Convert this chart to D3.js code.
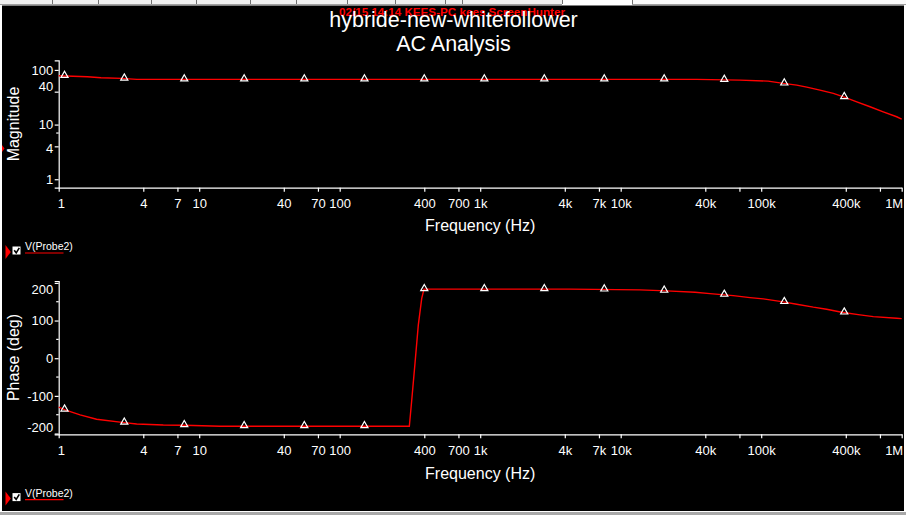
<!DOCTYPE html>
<html>
<head>
<meta charset="utf-8">
<script src="https://cdn.jsdelivr.net/npm/d3@7/dist/d3.min.js"></script>
<style>
  html, body { margin: 0; padding: 0; background: #ffffff; }
  svg { display: block; }
  text { font-family: "Liberation Sans", Arial, sans-serif; }
</style>
</head>
<body>
<svg id="chart" width="906" height="515"></svg>
<script>
// ---------------- DATA ----------------
const titleLines = ["hybride-new-whitefollower", "AC Analysis"];
const watermark = "02/15  14:14  KEES-PC  kees  ScreenHunter";
const seriesName = "V(Probe2)";

// Magnitude trace (frequency in Hz, magnitude)
const magFreq = [1, 1.6, 2.0, 2.8, 3.6, 34700, 70700, 112000, 143600, 179000, 211000,
                 262000, 326000, 395000, 479000, 595000, 739000, 921000, 1000000];
const magValues = [78.1, 74.8, 71.8, 70.0, 67.1, 67.1, 65.2, 62.5, 56.7, 52.8, 48.5,
                   42.8, 37.2, 31.5, 26.1, 21.2, 17.1, 13.9, 12.6];

// Phase trace (frequency in Hz, degrees)
const phaseFreq = [1, 1.11, 1.42, 1.86, 2.92, 3.59, 5.55, 7.83, 14.1, 313, 325, 343.6,
                   362.6, 383.5, 398, 4355, 13700, 21200, 33800, 43200, 63300, 83200,
                   103500, 140000, 179000, 235000, 292000, 374000, 505000, 628000, 921000, 1000000];
const phaseValues = [-130, -137, -150.6, -162, -171, -174.5, -177.2, -178, -180.6, -180.6, -115, -13,
                     88, 159, 183.3, 183.3, 181.4, 178.8, 175.3, 171.6, 166.3, 161,
                     157.5, 150.3, 143.4, 135.5, 130.1, 122.2, 115, 110.5, 106.2, 105];

// Marker (triangle) frequencies along the traces
const markerFreqs = [1.1, 2.93, 7.83, 20.9, 56, 150, 400, 1070, 2860, 7640, 20400, 54600, 146000, 390000];

// Tick values and labels
const xTicks = [1, 4, 7, 10, 40, 70, 100, 400, 700, 1e3, 4e3, 7e3, 1e4, 4e4, 7e4, 1e5, 4e5, 7e5, 1e6];
const xTickLabels = ["1", "4", "7", "10", "40", "70", "100", "400", "700", "1k", "4k", "7k", "10k",
                     "40k", "", "100k", "400k", "", "1M"];
const magTicks = [1, 4, 10, 40, 100];
const magMinorTicks = [7];
const phaseTicks = [-200, -100, 0, 100, 200];
const phaseMinorTicks = [-150, -50, 50, 150];

const xLabel = "Frequency (Hz)";
const magLabel = "Magnitude";
const phaseLabel = "Phase (deg)";

// ---------------- LAYOUT ----------------
const svg = d3.select("#chart");
const W = 906, H = 515;

const x = d3.scaleLog().domain([1, 1e6]).range([58.7, 901.7]);
const yMag = d3.scaleLog().domain([0.7, 150]).range([187.7, 60.3]);
const yPh = d3.scaleLinear().domain([-202, 205]).range([434.3, 281]);

// window chrome
svg.append("rect").attr("x", 0).attr("y", 0).attr("width", W).attr("height", H).attr("fill", "#ffffff");
svg.append("rect").attr("x", 0).attr("y", 0).attr("width", 562).attr("height", 4.5).attr("fill", "#f0f0f0");
svg.append("rect").attr("x", 632).attr("y", 0).attr("width", W - 632).attr("height", 4.5).attr("fill", "#fafafa");
svg.append("line").attr("x1", 0).attr("x2", 562).attr("y1", 4.5).attr("y2", 4.5).attr("stroke", "#a0a0a0");
svg.append("line").attr("x1", 632).attr("x2", W).attr("y1", 4.5).attr("y2", 4.5).attr("stroke", "#a0a0a0");
[52, 98, 151, 196, 250, 296, 347, 395, 445, 462, 562, 632].forEach(px => {
  svg.append("line").attr("x1", px + 0.5).attr("x2", px + 0.5).attr("y1", 0).attr("y2", 4)
    .attr("stroke", "#707070");
});
svg.append("rect").attr("x", 0).attr("y", 512).attr("width", W).attr("height", 3).attr("fill", "#a9a9a9");

// black plotting area
svg.append("rect").attr("x", 2).attr("y", 5.5).attr("width", 902).attr("height", 505.5).attr("fill", "#000000");

// watermark + titles
svg.append("text").attr("x", 452).attr("y", 16).attr("text-anchor", "middle")
  .attr("fill", "#ff0000").attr("font-size", 10.5).attr("font-weight", "bold")
  .attr("textLength", 226).attr("lengthAdjust", "spacingAndGlyphs")
  .text(watermark);
svg.append("text").attr("x", 453.5).attr("y", 26.5).attr("text-anchor", "middle")
  .attr("fill", "#ffffff").attr("font-size", 21.5).text(titleLines[0]);
svg.append("text").attr("x", 453.5).attr("y", 50.5).attr("text-anchor", "middle")
  .attr("fill", "#ffffff").attr("font-size", 21.5).text(titleLines[1]);

// ---------------- helpers ----------------
function interp(fs, vs, f, logV) {
  const lf = Math.log10(f);
  for (let i = 0; i < fs.length - 1; i++) {
    const a = Math.log10(fs[i]), b = Math.log10(fs[i + 1]);
    if (lf >= a && lf <= b) {
      const t = (lf - a) / (b - a);
      if (logV) return Math.pow(10, Math.log10(vs[i]) + t * (Math.log10(vs[i + 1]) - Math.log10(vs[i])));
      return vs[i] + t * (vs[i + 1] - vs[i]);
    }
  }
  return vs[vs.length - 1];
}

function styleAxis(g) {
  g.selectAll("path.domain").attr("stroke", "#ffffff").attr("stroke-width", 1.2);
  g.selectAll(".tick line").attr("stroke", "#ffffff").attr("stroke-width", 1.2);
  g.selectAll(".tick text").attr("fill", "#ffffff").attr("font-size", 13)
    .attr("font-family", '"Liberation Sans", Arial, sans-serif');
}

function drawXAxis(yPos) {
  const g = svg.append("g").attr("transform", `translate(0,${yPos})`)
    .call(d3.axisBottom(x).tickValues(xTicks)
      .tickFormat((d, i) => xTickLabels[i]).tickSize(4).tickSizeOuter(0).tickPadding(7));
  styleAxis(g);
  const texts = g.selectAll(".tick text");
  const n = xTicks.length;
  texts.each(function (d, i) {
    if (i === 0) d3.select(this).attr("text-anchor", "start").attr("dx", -1.5);
    if (i === n - 1) d3.select(this).attr("text-anchor", "end").attr("dx", 1);
  });
  return g;
}

function drawYAxis(scale, ticks, minor, fmt, nudge) {
  const g = svg.append("g").attr("transform", `translate(${x.range()[0]},0)`)
    .call(d3.axisLeft(scale).tickValues(ticks).tickFormat(fmt)
      .tickSize(4).tickSizeOuter(4).tickPadding(1.5));
  styleAxis(g);
  if (nudge) {
    g.selectAll(".tick text").attr("transform", d => nudge[d] ? `translate(0,${nudge[d]})` : null);
  }
  g.selectAll(".minor").data(minor).enter().append("line")
    .attr("x1", -2.5).attr("x2", 0)
    .attr("y1", d => scale(d)).attr("y2", d => scale(d))
    .attr("stroke", "#ffffff").attr("stroke-width", 1.2);
  return g;
}

const triangle = d3.symbol().type(d3.symbolTriangle).size(22);

function drawMarkers(yScale, fs, vs, logV) {
  svg.append("g").selectAll("path").data(markerFreqs).enter().append("path")
    .attr("d", triangle)
    .attr("transform", d => `translate(${x(d)},${yScale(interp(fs, vs, d, logV)) - 0.6})`)
    .attr("fill", "none").attr("stroke", "#ffffff").attr("stroke-width", 1.2);
}

function drawLegend(yOff) {
  const g = svg.append("g").attr("transform", `translate(0,${yOff})`);
  g.append("path").attr("d", "M5.5,245 L10.8,252 L5.5,259 Z").attr("fill", "#ff0000");
  g.append("rect").attr("x", 12.5).attr("y", 246.5).attr("width", 8).attr("height", 8).attr("fill", "#ffffff");
  g.append("path").attr("d", "M14.2,250.3 L16.2,252.8 L19.3,247.8").attr("fill", "none")
    .attr("stroke", "#000000").attr("stroke-width", 1.6);
  g.append("text").attr("x", 25).attr("y", 250).attr("fill", "#ffffff").attr("font-size", 10.5)
    .text(seriesName);
  g.append("line").attr("x1", 25).attr("x2", 63.5).attr("y1", 253).attr("y2", 253)
    .attr("stroke", "#ff0000").attr("stroke-width", 1.2);
}

// ---------------- MAGNITUDE PLOT ----------------
drawXAxis(yMag.range()[0]);
drawYAxis(yMag, magTicks, magMinorTicks, d => String(d), {40: -5, 4: 2});
svg.append("text").attr("x", x(1000)).attr("y", 231).attr("text-anchor", "middle")
  .attr("fill", "#ffffff").attr("font-size", 16).text(xLabel);
svg.append("text").attr("transform", "translate(18.5,124) rotate(-90)").attr("text-anchor", "middle")
  .attr("fill", "#ffffff").attr("font-size", 16).text(magLabel);

const magLine = d3.line().x(d => x(d[0])).y(d => yMag(d[1]));
svg.append("path").datum(magFreq.map((f, i) => [f, magValues[i]]))
  .attr("d", magLine).attr("fill", "none").attr("stroke", "#ff0000").attr("stroke-width", 1.4);
drawMarkers(yMag, magFreq, magValues, true);

// small red cursor mark on the left edge
svg.append("path").attr("d", "M2,145 L4.5,148.5 L2,152 Z").attr("fill", "#ff0000");

drawLegend(0);

// ---------------- PHASE PLOT ----------------
drawXAxis(yPh.range()[0]);
drawYAxis(yPh, phaseTicks, phaseMinorTicks, d => String(d), {200: 6, "-200": -6});
svg.append("text").attr("x", x(1000)).attr("y", 479).attr("text-anchor", "middle")
  .attr("fill", "#ffffff").attr("font-size", 16).text(xLabel);
svg.append("text").attr("transform", "translate(18.5,357.5) rotate(-90)").attr("text-anchor", "middle")
  .attr("fill", "#ffffff").attr("font-size", 16).text(phaseLabel);

const phLine = d3.line().x(d => x(d[0])).y(d => yPh(d[1]));
svg.append("path").datum(phaseFreq.map((f, i) => [f, phaseValues[i]]))
  .attr("d", phLine).attr("fill", "none").attr("stroke", "#ff0000").attr("stroke-width", 1.4);
drawMarkers(yPh, phaseFreq, phaseValues, false);

drawLegend(246.6);
</script>
</body>
</html>
